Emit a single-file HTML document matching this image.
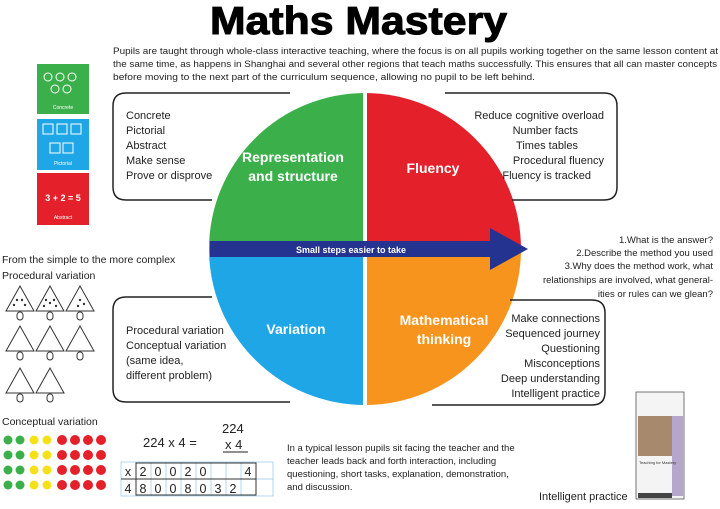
<!DOCTYPE html>
<html><head><meta charset="utf-8"><style>
body{margin:0;background:#fff;}
svg{display:block;font-family:"Liberation Sans",sans-serif;}
</style></head><body>
<svg width="720" height="509" viewBox="0 0 720 509">
<text x="210" y="34" font-size="39" font-weight="bold" fill="#000" stroke="#000" stroke-width="1" textLength="297" lengthAdjust="spacingAndGlyphs">Maths Mastery</text>
<g font-size="9.6" fill="#222">
<text x="113" y="54" textLength="605" lengthAdjust="spacingAndGlyphs">Pupils are taught through whole-class interactive teaching, where the focus is on all pupils working together on the same lesson content at</text>
<text x="113" y="67" textLength="604" lengthAdjust="spacingAndGlyphs">the same time, as happens in Shanghai and several other regions that teach maths successfully. This ensures that all can master concepts</text>
<text x="113" y="80" textLength="422" lengthAdjust="spacingAndGlyphs">before moving to the next part of the curriculum sequence, allowing no pupil to be left behind.</text>
</g>
<!-- side blocks -->
<rect x="37" y="64" width="52" height="50" fill="#3bb04a"/>
<rect x="37" y="119" width="52" height="51" fill="#1fa6e6"/>
<rect x="37" y="173" width="52" height="52" fill="#e4202a"/>
<g fill="none" stroke="#fff" stroke-width="1">
<circle cx="48" cy="77" r="4"/><circle cx="60" cy="77" r="4"/><circle cx="72" cy="77" r="4"/><circle cx="55" cy="89" r="4"/><circle cx="67" cy="89" r="4"/>
<rect x="43" y="124" width="10" height="10"/><rect x="57" y="124" width="10" height="10"/><rect x="71" y="124" width="10" height="10"/>
<rect x="50" y="143" width="10" height="10"/><rect x="63" y="143" width="10" height="10"/>
</g>
<g fill="#fff" font-size="5" text-anchor="middle">
<text x="63" y="109">Concrete</text><text x="63" y="165">Pictorial</text>
<text x="63" y="219">Abstract</text><text x="63" y="201" font-size="9" font-weight="bold">3 + 2 = 5</text>
</g>
<!-- circle -->
<path d="M365 249 L209 249 A156 156 0 0 1 365 93 Z" fill="#3bb04a"/>
<path d="M365 249 L365 93 A156 156 0 0 1 521 249 Z" fill="#e4202a"/>
<path d="M365 249 L521 249 A156 156 0 0 1 365 405 Z" fill="#f7941d"/>
<path d="M365 249 L365 405 A156 156 0 0 1 209 249 Z" fill="#1fa6e6"/>
<rect x="363" y="90" width="4" height="320" fill="#fff"/>
<rect x="210" y="241" width="282" height="16" fill="#24338f"/>
<polygon points="490,228 528,249 490,270" fill="#24338f"/>
<text x="351" y="253" text-anchor="middle" font-size="9" font-weight="bold" fill="#fff">Small steps easier to take</text>
<g fill="#fff" font-size="14" font-weight="bold" text-anchor="middle">
<text x="293" y="162">Representation</text><text x="293" y="181">and structure</text>
<text x="433" y="173">Fluency</text>
<text x="296" y="334">Variation</text>
<text x="444" y="325">Mathematical</text><text x="444" y="344">thinking</text>
</g>
<!-- boxes -->
<g fill="none" stroke="#222" stroke-width="1.5">
<path d="M290 93 H126 Q113 93 113 106 V187 Q113 200 126 200 H212"/>
<path d="M445 93 H604 Q617 93 617 106 V187 Q617 200 604 200 H512"/>
<path d="M212 297 H126 Q113 297 113 310 V389 Q113 402 126 402 H290"/>
<path d="M510 300 H592 Q605 300 605 313 V392 Q605 405 592 405 H432"/>
</g>
<g font-size="11" fill="#222">
<text x="126" y="119">Concrete</text><text x="126" y="134">Pictorial</text><text x="126" y="149">Abstract</text><text x="126" y="164">Make sense</text><text x="126" y="179">Prove or disprove</text>
<text x="126" y="334">Procedural variation</text><text x="126" y="349">Conceptual variation</text><text x="126" y="364">(same idea,</text><text x="126" y="379">different problem)</text>
</g>
<g font-size="11" fill="#222" text-anchor="end">
<text x="604" y="119">Reduce cognitive overload</text><text x="578" y="134">Number facts</text><text x="578" y="149">Times tables</text><text x="604" y="164">Procedural fluency</text><text x="591" y="179">Fluency is tracked</text>
<text x="600" y="322">Make connections</text><text x="600" y="337">Sequenced journey</text><text x="600" y="352">Questioning</text><text x="600" y="367">Misconceptions</text><text x="600" y="382">Deep understanding</text><text x="600" y="397">Intelligent practice</text>
</g>
<g font-size="9.5" fill="#222" text-anchor="end">
<text x="713" y="243">1.What is the answer?</text>
<text x="713" y="256">2.Describe the method you used</text>
<text x="713" y="269">3.Why does the method work, what</text>
<text x="713" y="283">relationships are involved, what general-</text>
<text x="713" y="297">ities or rules can we glean?</text>
</g>
<text x="2" y="263" font-size="10.5" fill="#222">From the simple to the more complex</text>
<text x="2" y="279" font-size="10.5" fill="#222">Procedural variation</text>
<g fill="none" stroke="#333" stroke-width="1">
<polygon points="20,286 6,311 34,311"/><polygon points="50,286 36,311 64,311"/><polygon points="80,286 66,311 94,311"/>
<polygon points="20,326 6,351 34,351"/><polygon points="50,326 36,351 64,351"/><polygon points="80,326 66,351 94,351"/>
<polygon points="20,368 6,393 34,393"/><polygon points="50,368 36,393 64,393"/>
<rect x="17" y="312" width="6" height="8" rx="3"/><rect x="47" y="312" width="6" height="8" rx="3"/><rect x="77" y="312" width="6" height="8" rx="3"/>
<rect x="17" y="352" width="6" height="8" rx="3"/><rect x="47" y="352" width="6" height="8" rx="3"/><rect x="77" y="352" width="6" height="8" rx="3"/>
<rect x="17" y="394" width="6" height="8" rx="3"/><rect x="47" y="394" width="6" height="8" rx="3"/>
</g>
<g fill="#333">
<circle cx="17" cy="300" r="1.2"/><circle cx="22" cy="300" r="1.2"/><circle cx="14" cy="305" r="1.2"/><circle cx="25" cy="305" r="1.2"/>
<circle cx="46" cy="300" r="1.2"/><circle cx="50" cy="303" r="1.2"/><circle cx="54" cy="300" r="1.2"/><circle cx="44" cy="306" r="1.2"/><circle cx="56" cy="306" r="1.2"/>
<circle cx="80" cy="300" r="1.2"/><circle cx="84" cy="304" r="1.2"/><circle cx="78" cy="306" r="1.2"/>
</g>
<text x="2" y="425" font-size="10.5" fill="#222">Conceptual variation</text>
<g>
<g id="row"><circle cx="8" cy="440" r="4.5" fill="#3bb04a"/><circle cx="20" cy="440" r="4.5" fill="#3bb04a"/><circle cx="34" cy="440" r="4.5" fill="#f5e11a"/><circle cx="47" cy="440" r="4.5" fill="#f5e11a"/><circle cx="62" cy="440" r="5" fill="#e4202a"/><circle cx="75" cy="440" r="5" fill="#e4202a"/><circle cx="88" cy="440" r="5" fill="#e4202a"/><circle cx="101" cy="440" r="5" fill="#e4202a"/></g>
<use href="#row" y="15"/><use href="#row" y="30"/><use href="#row" y="45"/>
</g>
<g font-size="13" fill="#222">
<text x="222" y="433">224</text><text x="143" y="447">224 x 4 =</text><text x="225" y="449">x 4</text>
</g>
<line x1="223" y1="452" x2="248" y2="452" stroke="#222"/>
<g fill="none" stroke="#8fc7e6" stroke-width="0.7">
<rect x="121" y="462" width="152" height="34"/><line x1="121" y1="479" x2="273" y2="479"/>
<line x1="136" y1="462" x2="136" y2="496"/><line x1="151" y1="462" x2="151" y2="496"/><line x1="166" y1="462" x2="166" y2="496"/><line x1="181" y1="462" x2="181" y2="496"/><line x1="196" y1="462" x2="196" y2="496"/><line x1="211" y1="462" x2="211" y2="496"/><line x1="226" y1="462" x2="226" y2="496"/><line x1="241" y1="462" x2="241" y2="496"/><line x1="256" y1="462" x2="256" y2="496"/>
</g>
<rect x="136" y="463" width="120" height="32" fill="none" stroke="#333"/><line x1="121" y1="479" x2="256" y2="479" stroke="#333"/>
<g font-size="12.5" fill="#222" text-anchor="middle">
<text x="128" y="476">x</text><text x="143" y="476">2</text><text x="158" y="476">0</text><text x="173" y="476">0</text><text x="188" y="476">2</text><text x="203" y="476">0</text><text x="248" y="476">4</text>
<text x="128" y="493">4</text><text x="143" y="493">8</text><text x="158" y="493">0</text><text x="173" y="493">0</text><text x="188" y="493">8</text><text x="203" y="493">0</text><text x="218" y="493">3</text><text x="233" y="493">2</text>
</g>
<g font-size="9.5" fill="#222">
<text x="287" y="451">In a typical lesson pupils sit facing the teacher and the</text>
<text x="287" y="464">teacher leads back and forth interaction, including</text>
<text x="287" y="477">questioning, short tasks, explanation, demonstration,</text>
<text x="287" y="490">and discussion.</text>
</g>
<text x="539" y="500" font-size="11" fill="#222">Intelligent practice</text>
<rect x="636" y="392" width="48" height="107" fill="#f4f4f4" stroke="#555" stroke-width="0.8"/>
<rect x="638" y="416" width="34" height="40" fill="#a78a6e"/>
<rect x="672" y="416" width="11" height="80" fill="#b5a6cc"/>
<rect x="638" y="493" width="34" height="5" fill="#444"/>
<text x="639" y="464" font-size="4" fill="#333">Teaching for Mastery</text>
</svg>
</body></html>
